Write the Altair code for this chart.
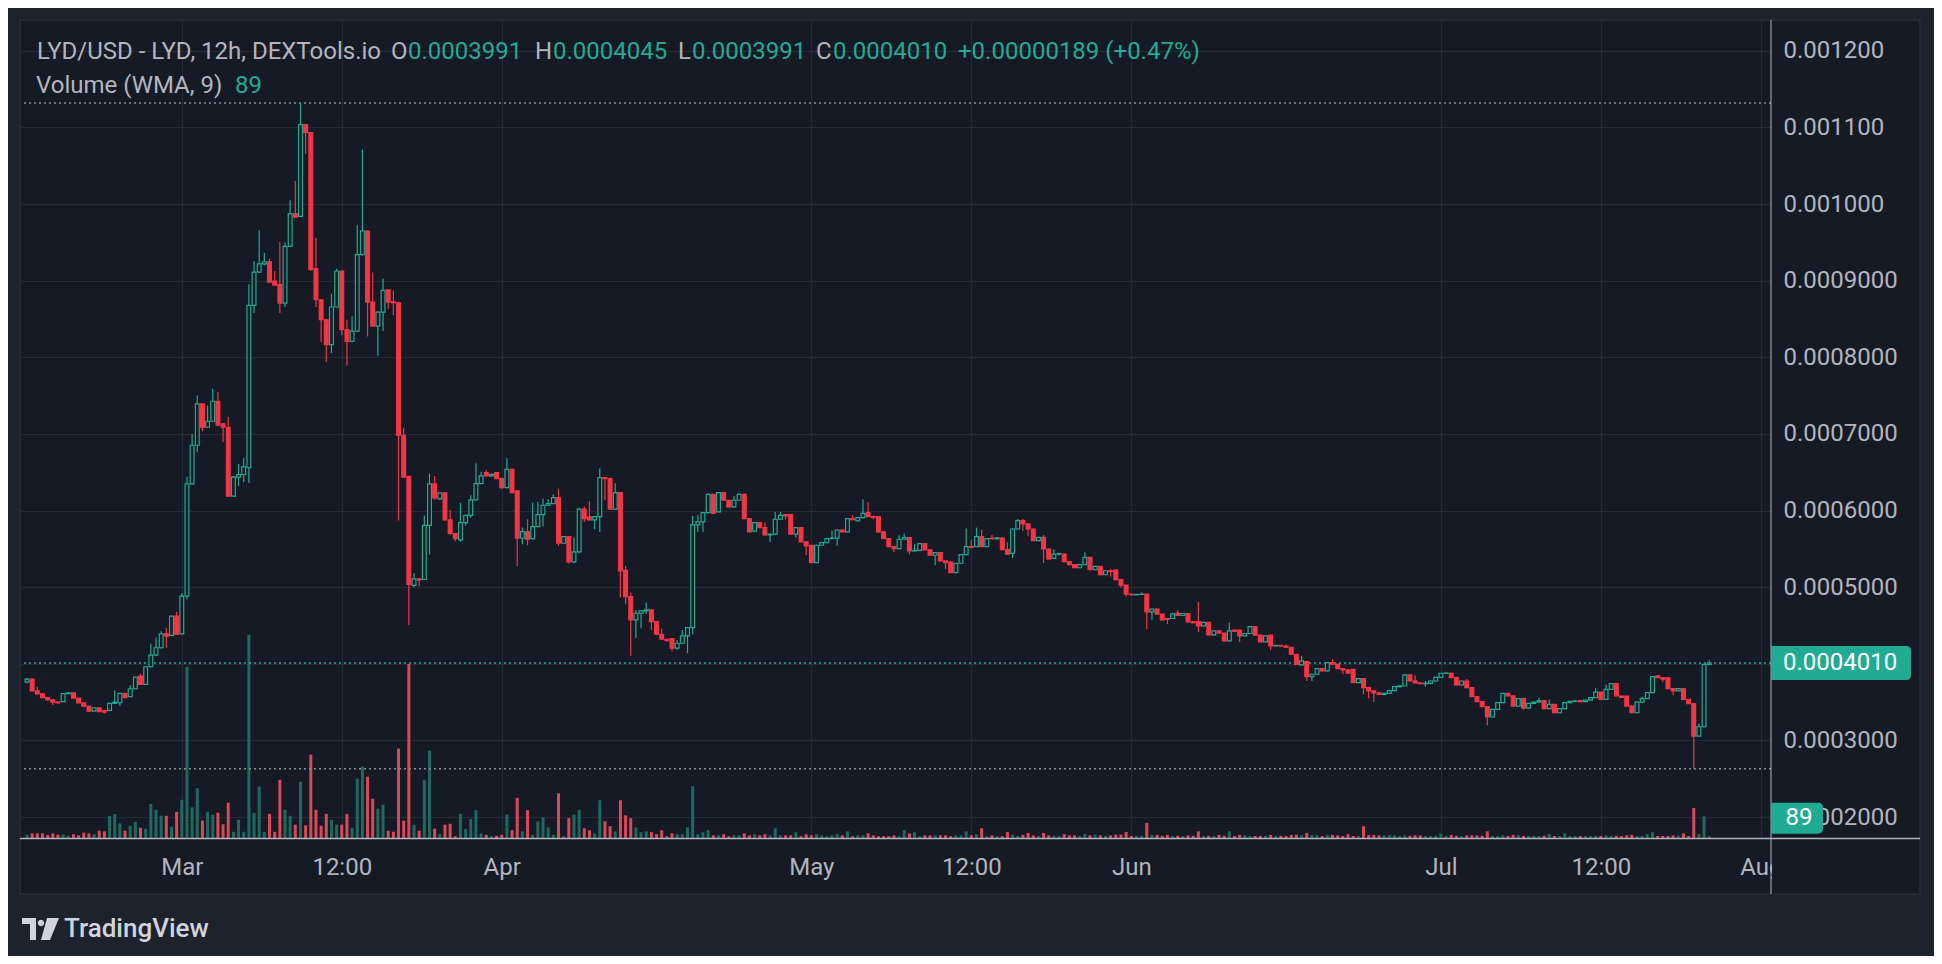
import altair as alt
import pandas as pd

P = 1e-7  # prices below are in units of 0.0000001 USD

# (open, high, low, close, volume) per 12h candle, starting 2024-02-15 00:00 UTC
feb = [
    (3760, 3810, 3750, 3800, 15), (3800, 3810, 3640, 3645, 21), (3645, 3700, 3600, 3608, 21),
    (3608, 3615, 3550, 3557, 21), (3557, 3565, 3515, 3530, 14), (3530, 3535, 3461, 3500, 21),
    (3500, 3510, 3480, 3490, 15), (3505, 3612, 3500, 3609, 15), (3609, 3628, 3605, 3620, 10),
    (3620, 3622, 3550, 3552, 17), (3552, 3555, 3485, 3490, 12), (3490, 3492, 3440, 3448, 24),
    (3448, 3450, 3378, 3383, 21), (3383, 3430, 3380, 3426, 17), (3426, 3430, 3370, 3375, 33),
    (3390, 3400, 3352, 3370, 30), (3391, 3490, 3385, 3483, 99), (3483, 3650, 3475, 3500, 108),
    (3491, 3620, 3450, 3613, 66), (3613, 3618, 3550, 3557, 33), (3570, 3718, 3565, 3674, 55),
    (3674, 3830, 3670, 3826, 73), (3839, 3870, 3725, 3730, 46), (3730, 3965, 3725, 3961, 42),
    (3961, 4261, 3955, 4113, 154), (4113, 4339, 4105, 4209, 127), (4209, 4426, 4200, 4391, 100),
    (4391, 4470, 4209, 4361, 100), (4370, 4625, 4365, 4622, 51), (4622, 4678, 4380, 4383, 118),
]
mar_a = [
    (4391, 4925, 4385, 4883, 172), (4883, 6440, 4840, 6348, 770), (6348, 7000, 6340, 6852, 138),
    (6852, 7500, 6761, 7391, 224), (7391, 7395, 7035, 7087, 78), (7087, 7370, 7080, 7165, 118),
    (7165, 7590, 7160, 7426, 105), (7426, 7548, 7105, 7113, 114), (7130, 7135, 6891, 7087, 62),
    (7087, 7222, 6180, 6187, 159), (6187, 6450, 6175, 6435, 28), (6435, 6609, 6318, 6470, 82),
    (6470, 6687, 6370, 6570, 28), (6558, 8952, 6360, 8677, 914), (8677, 9252, 8577, 9112, 114),
    (9112, 9657, 9100, 9220, 231), (9220, 9365, 9200, 9247, 28), (9247, 9287, 8975, 8982, 109),
    (8995, 9126, 8938, 8940, 28), (8952, 9504, 8577, 8708, 262), (8708, 9500, 8655, 9448, 127),
    (9448, 10048, 9440, 9874, 100), (9874, 10300, 9820, 9830, 60), (9839, 11319, 9830, 11036, 253),
    (11036, 11040, 10657, 10932, 57), (10932, 10935, 9126, 9147, 375), (9156, 9561, 8656, 8751, 127),
    (8751, 8760, 8198, 8490, 55), (8490, 8495, 7937, 8164, 109), (8164, 8830, 8055, 8656, 82),
    (8656, 9156, 8650, 9126, 60),
]
mar_b = [
    (9126, 9130, 8286, 8360, 60), (8360, 8490, 7894, 8207, 109), (8207, 8534, 8200, 8342, 46),
    (8342, 9722, 8335, 9339, 267), (9339, 10710, 9330, 9648, 321), (9648, 9657, 8272, 8721, 276),
    (8721, 9108, 8405, 8407, 177), (8407, 8600, 8016, 8590, 132), (8590, 9025, 8342, 8873, 150),
    (8880, 8885, 8634, 8721, 33), (8725, 8873, 8547, 8712, 28), (8712, 8720, 5870, 6980, 402),
    (6980, 7080, 6430, 6436, 78), (6445, 6450, 4505, 5035, 783), (5022, 5180, 5000, 5109, 60),
    (5109, 5112, 5010, 5095, 33), (5100, 5936, 5095, 5805, 262), (5805, 6483, 5426, 6348, 393),
    (6348, 6450, 6140, 6165, 42), (6153, 6240, 6145, 6231, 18), (6231, 6240, 5870, 5879, 60),
    (5879, 6010, 5690, 5699, 64), (5699, 5700, 5600, 5634, 8), (5618, 6100, 5590, 5843, 109),
    (5843, 5945, 5805, 5938, 41), (5938, 6200, 5905, 6138, 86), (6138, 6617, 6130, 6351, 125),
    (6351, 6505, 6345, 6451, 21), (6495, 6530, 6440, 6451, 14), (6451, 6480, 6440, 6471, 8),
    (6495, 6500, 6410, 6417, 10),
]
apr = [
    (6417, 6430, 6285, 6299, 14), (6299, 6682, 6290, 6538, 105), (6538, 6545, 6225, 6234, 35),
    (6256, 6260, 5277, 5638, 181), (5638, 5777, 5560, 5725, 30), (5725, 5886, 5547, 5625, 125),
    (5634, 6103, 5625, 5790, 14), (5790, 6112, 5785, 5947, 75), (5947, 6156, 5790, 6069, 93),
    (6069, 6147, 6060, 6091, 48), (6091, 6212, 6085, 6169, 14), (6169, 6286, 5538, 5573, 201),
    (5573, 5665, 5565, 5660, 8), (5660, 5665, 5308, 5329, 89), (5329, 5647, 5320, 5460, 105),
    (5460, 6038, 5450, 6017, 127), (6017, 6052, 5851, 5895, 44), (5917, 6121, 5870, 5877, 35),
    (5877, 5925, 5756, 5921, 21), (5921, 6547, 5721, 6430, 170), (6430, 6430, 6134, 6417, 75),
    (6417, 6430, 6010, 6017, 53), (6017, 6356, 6010, 6234, 30), (6234, 6240, 4864, 5212, 170),
    (5220, 5277, 4777, 4877, 102), (4877, 4930, 4103, 4572, 89), (4572, 4703, 4333, 4659, 48),
    (4659, 4700, 4463, 4690, 26), (4690, 4798, 4650, 4703, 30), (4703, 4710, 4442, 4550, 26),
    (4550, 4560, 4380, 4385, 17), (4385, 4458, 4315, 4320, 35), (4320, 4325, 4295, 4303, 8),
    (4329, 4335, 4163, 4203, 21), (4203, 4307, 4180, 4268, 17), (4268, 4442, 4260, 4364, 17),
    (4364, 4480, 4137, 4472, 48), (4472, 5930, 4385, 5812, 233), (5812, 5940, 5721, 5851, 17),
    (5851, 5980, 5721, 5973, 26), (5973, 6220, 5965, 6212, 35), (6212, 6220, 5955, 5964, 12),
    (5982, 6240, 5975, 6234, 12), (6234, 6238, 6125, 6134, 17), (6134, 6140, 6040, 6047, 8),
    (6047, 6190, 6040, 6134, 12), (6134, 6218, 6128, 6212, 12), (6212, 6218, 5890, 5895, 21),
    (5895, 5900, 5715, 5721, 12), (5730, 5850, 5725, 5843, 17), (5843, 5848, 5770, 5778, 12),
    (5778, 5843, 5675, 5682, 17), (5682, 5700, 5590, 5691, 12), (5691, 5982, 5685, 5886, 44),
    (5886, 5982, 5880, 5938, 12), (5947, 5950, 5886, 5930, 12), (5947, 5950, 5685, 5691, 12),
    (5691, 5785, 5647, 5778, 26), (5778, 5785, 5585, 5590, 8), (5590, 5595, 5416, 5538, 17),
]
may = [
    (5547, 5550, 5315, 5321, 12), (5321, 5552, 5315, 5547, 17), (5547, 5590, 5540, 5582, 12),
    (5582, 5640, 5575, 5634, 8), (5634, 5740, 5630, 5640, 12), (5640, 5750, 5540, 5743, 17),
    (5743, 5750, 5715, 5720, 12), (5721, 5900, 5715, 5895, 30), (5895, 5938, 5875, 5880, 8),
    (5865, 5912, 5860, 5908, 12), (5908, 6147, 5900, 5964, 12), (5973, 6104, 5915, 5921, 21),
    (5921, 5935, 5886, 5910, 12), (5921, 5925, 5715, 5721, 8), (5721, 5725, 5628, 5634, 8),
    (5634, 5638, 5522, 5529, 8), (5529, 5535, 5460, 5503, 12), (5503, 5677, 5497, 5625, 8),
    (5625, 5700, 5620, 5647, 35), (5647, 5650, 5430, 5473, 21), (5473, 5560, 5468, 5480, 26),
    (5480, 5575, 5475, 5569, 8), (5569, 5575, 5480, 5486, 12), (5486, 5490, 5410, 5416, 12),
    (5416, 5455, 5285, 5451, 12), (5451, 5455, 5335, 5342, 12), (5342, 5345, 5233, 5320, 12),
    (5329, 5332, 5183, 5190, 8), (5190, 5318, 5185, 5312, 12), (5312, 5430, 5305, 5425, 12),
    (5425, 5764, 5420, 5529, 30), (5529, 5620, 5515, 5520, 12), (5529, 5777, 5525, 5660, 17),
    (5660, 5747, 5525, 5529, 44), (5529, 5640, 5525, 5634, 8), (5640, 5680, 5625, 5630, 12),
    (5630, 5650, 5625, 5645, 8), (5641, 5650, 5480, 5489, 8), (5489, 5585, 5420, 5432, 27),
    (5441, 5765, 5380, 5759, 15), (5759, 5890, 5750, 5868, 9), (5868, 5890, 5737, 5825, 14),
    (5825, 5830, 5672, 5759, 23), (5759, 5765, 5600, 5607, 12), (5607, 5655, 5600, 5650, 9),
    (5650, 5680, 5315, 5498, 23), (5498, 5500, 5360, 5367, 12), (5375, 5498, 5370, 5432, 9),
    (5432, 5445, 5410, 5440, 9), (5432, 5440, 5325, 5332, 17), (5332, 5335, 5285, 5293, 12),
    (5293, 5298, 5248, 5253, 12), (5253, 5298, 5248, 5293, 9), (5293, 5454, 5288, 5389, 18),
    (5389, 5395, 5220, 5227, 12), (5227, 5278, 5220, 5271, 15), (5271, 5276, 5155, 5162, 12),
    (5162, 5220, 5158, 5214, 9), (5214, 5236, 5140, 5205, 12), (5223, 5228, 5090, 5097, 15),
    (5097, 5102, 4996, 5027, 15), (5027, 5030, 4874, 4909, 27),
]
jun = [
    (4909, 4915, 4895, 4900, 9), (4900, 4912, 4895, 4905, 9), (4905, 4930, 4900, 4909, 10),
    (4909, 4912, 4451, 4678, 68), (4678, 4722, 4573, 4713, 14), (4713, 4718, 4640, 4647, 14),
    (4647, 4650, 4565, 4573, 10), (4590, 4595, 4517, 4580, 14), (4591, 4658, 4585, 4652, 9),
    (4660, 4700, 4625, 4630, 10), (4630, 4662, 4625, 4656, 9), (4656, 4660, 4540, 4547, 12),
    (4547, 4552, 4530, 4535, 10), (4550, 4809, 4416, 4495, 30), (4495, 4545, 4490, 4539, 9),
    (4539, 4545, 4370, 4377, 10), (4377, 4435, 4370, 4429, 9), (4429, 4435, 4395, 4400, 14),
    (4400, 4405, 4290, 4298, 10), (4298, 4538, 4290, 4429, 30), (4438, 4450, 4420, 4425, 9),
    (4438, 4442, 4285, 4364, 14), (4364, 4400, 4358, 4395, 12), (4395, 4492, 4390, 4486, 9),
    (4486, 4490, 4368, 4373, 9), (4373, 4378, 4280, 4285, 10), (4285, 4370, 4280, 4364, 9),
    (4373, 4378, 4180, 4233, 14), (4233, 4245, 4228, 4240, 9), (4240, 4245, 4225, 4230, 10),
    (4230, 4250, 4210, 4215, 9), (4215, 4220, 4118, 4124, 14), (4124, 4128, 3988, 3993, 15),
    (3985, 4103, 3980, 4037, 12), (4028, 4032, 3775, 3832, 23), (3832, 3870, 3775, 3863, 14),
    (3863, 3943, 3858, 3937, 14), (3937, 3942, 3900, 3906, 9), (3906, 4020, 3900, 4015, 14),
    (4015, 4058, 3990, 3995, 14), (3995, 4000, 3930, 3937, 12), (3937, 3942, 3862, 3920, 9),
    (3920, 3925, 3870, 3876, 17), (3928, 3932, 3748, 3754, 9), (3754, 3812, 3748, 3806, 9),
    (3806, 3810, 3600, 3688, 53), (3688, 3692, 3548, 3645, 14), (3645, 3650, 3500, 3620, 14),
    (3620, 3625, 3595, 3600, 12), (3600, 3620, 3595, 3614, 12), (3614, 3655, 3608, 3649, 14),
    (3649, 3707, 3643, 3701, 12), (3701, 3720, 3695, 3710, 9), (3710, 3860, 3705, 3854, 12),
    (3854, 3860, 3770, 3776, 10), (3776, 3850, 3745, 3750, 12), (3750, 3755, 3735, 3740, 12),
    (3740, 3775, 3700, 3745, 9), (3745, 3780, 3740, 3775, 9), (3775, 3830, 3770, 3823, 10),
]
jul = [
    (3823, 3882, 3818, 3876, 19), (3876, 3885, 3870, 3880, 9), (3876, 3882, 3812, 3819, 14),
    (3819, 3830, 3710, 3723, 10), (3723, 3782, 3718, 3775, 9), (3775, 3800, 3680, 3688, 12),
    (3688, 3692, 3565, 3570, 12), (3570, 3575, 3500, 3505, 12), (3505, 3510, 3435, 3440, 10),
    (3440, 3445, 3196, 3305, 30), (3305, 3410, 3300, 3405, 10), (3405, 3498, 3400, 3492, 9),
    (3492, 3620, 3487, 3614, 12), (3614, 3620, 3575, 3580, 9), (3580, 3585, 3442, 3448, 14),
    (3448, 3550, 3443, 3544, 12), (3544, 3550, 3400, 3422, 10), (3422, 3488, 3417, 3483, 9),
    (3483, 3505, 3478, 3500, 9), (3500, 3555, 3495, 3520, 9), (3520, 3525, 3408, 3414, 10),
    (3414, 3535, 3408, 3470, 18), (3470, 3475, 3355, 3361, 9), (3361, 3420, 3355, 3414, 9),
    (3414, 3498, 3408, 3492, 21), (3492, 3515, 3487, 3510, 9), (3510, 3520, 3505, 3515, 9),
    (3520, 3525, 3500, 3505, 9), (3505, 3530, 3500, 3525, 9), (3525, 3562, 3520, 3557, 9),
    (3557, 3680, 3552, 3631, 9), (3631, 3636, 3530, 3535, 9), (3535, 3730, 3530, 3666, 12),
    (3666, 3746, 3660, 3741, 9), (3741, 3746, 3574, 3579, 10), (3579, 3584, 3555, 3560, 9),
    (3579, 3584, 3443, 3448, 12), (3448, 3453, 3355, 3361, 14), (3361, 3505, 3355, 3500, 9),
    (3500, 3570, 3495, 3544, 9), (3544, 3628, 3539, 3623, 17), (3623, 3838, 3618, 3832, 26),
    (3841, 3853, 3815, 3819, 9), (3819, 3825, 3760, 3800, 9), (3815, 3820, 3670, 3675, 9),
    (3675, 3680, 3590, 3645, 12), (3645, 3680, 3640, 3675, 10), (3675, 3680, 3530, 3535, 21),
    (3535, 3540, 3474, 3479, 9), (3479, 3484, 2630, 3056, 135), (3056, 3220, 3050, 3178, 18),
    (3178, 3997, 3172, 3991, 98), (3991, 4045, 3991, 4010, 8),
]

TICKS = [(3, 1, 0), (3, 16, 12), (4, 1, 0), (5, 1, 0), (5, 16, 12), (6, 1, 0), (7, 1, 0), (7, 16, 12), (8, 1, 0)]
PRICE_TICKS = [2, 3, 4, 5, 6, 7, 8, 9, 10, 11, 12]   # x 0.0001
VOL_WMA = 89
CHANGE_TEXT = "+0.00000189 (+0.47%)"

UP = "#22ab94"
DOWN = "#f23645"
VOL_UP = "#1e6a5e"
VOL_DOWN = "#d9495a"
BG = "#161a25"
OUTER = "#1e222d"
BORDER = "#2a2e39"
GRID = "#262a35"
TXT = "#b2b5be"
DOT = "#8a8d96"
SEP = "#b2b5be"
FONT = "Roboto"

W, H = 1750, 817
PRICE_DOMAIN = [0.0001726, 0.0012389]
VOL_DOMAIN = [0, 3676]

candles = feb + mar_a + mar_b + apr + may + jun + jul
df = pd.DataFrame(candles, columns=["o", "h", "l", "c", "v"])
start = pd.Timestamp("2024-02-15 00:00")
df["t"] = [(start + pd.Timedelta(hours=12 * i)).strftime("%Y-%m-%dT%H:%M:%SZ") for i in range(len(df))]
for k in "ohlc":
    df[k] = df[k] * P
df["up"] = df["c"] >= df["o"]

last = df.iloc[-1]

xscale = alt.Scale(type="utc", nice=False, domain=[
    alt.DateTime(year=2024, month=2, date=14, hours=21, minutes=42, utc=True),
    alt.DateTime(year=2024, month=8, date=1, hours=12, utc=True)])
xaxis = alt.Axis(
    values=[alt.DateTime(year=2024, month=m, date=d, hours=hh, utc=True) for m, d, hh in TICKS],
    labelExpr="utcFormat(datum.value, '%H') == '12' ? '12:00' : utcFormat(datum.value, '%b')",
    grid=True, gridColor=GRID, gridWidth=1, domain=False, ticks=False, tickSize=0,
    labelPadding=29, labelBaseline="middle", labelFontSize=24, labelFont=FONT,
    labelColor=TXT, labelFlush=False, labelOverlap=False, title=None)
X = alt.X("t:T", scale=xscale, axis=xaxis)

yscale = alt.Scale(domain=PRICE_DOMAIN, nice=False, zero=False)
yaxis = alt.Axis(
    orient="right", values=[round(k * 1e-4, 4) for k in PRICE_TICKS],
    labelExpr="datum.value >= 0.00099 ? format(datum.value, '.6f') : format(datum.value, '.7f')",
    grid=True, gridColor=GRID, gridWidth=1, domain=False, ticks=False, tickSize=0,
    labelPadding=12, labelFontSize=24, labelFont=FONT, labelColor=TXT,
    labelBaseline="middle", labelAlign="left", labelFlush=False, labelOverlap=False, title=None)
volscale = alt.Scale(domain=VOL_DOMAIN, nice=False)

base = alt.Chart(df)
ONE = pd.DataFrame({"a": [0]})


def rect(x, x2, y, y2, **kw):
    return alt.Chart(ONE).mark_rect(**kw).encode(
        x=alt.value(x), x2=alt.value(x2), y=alt.value(y), y2=alt.value(y2))


def text(s, x, y, color, size=24, align="left", baseline="alphabetic", weight="normal"):
    return alt.Chart(ONE).mark_text(
        text=s, font=FONT, fontSize=size, color=color, align=align,
        baseline=baseline, fontWeight=weight).encode(x=alt.value(x), y=alt.value(y))


strips = [
    rect(-13, 1913, -13, -1, fill=OUTER),
    rect(-13, -1, -13, 935, fill=OUTER),
    rect(1899, 1913, -13, 935, fill=OUTER),
    rect(-13, 1913, 873, 935, fill=OUTER),
    rect(-1, 1899, -1, 873, fillOpacity=0, stroke=BORDER, strokeWidth=1.5),
]

vol = base.mark_bar(size=3, clip=True).encode(
    x=X, y=alt.Y("v:Q", scale=volscale, axis=None),
    color=alt.condition("datum.up", alt.value(VOL_UP), alt.value(VOL_DOWN)))

lines_df = pd.DataFrame({"p": [df["h"].max(), df["l"].min(), last["c"]], "col": [DOT, DOT, UP]})
reflines = alt.Chart(lines_df).mark_rule(strokeDash=[2, 3], strokeWidth=1.5).encode(
    y=alt.Y("p:Q", scale=yscale, axis=None), color=alt.Color("col:N", scale=None))

wicks = base.mark_rule(strokeWidth=1.2, clip=True).encode(
    x=X, y=alt.Y("l:Q", scale=yscale, axis=yaxis), y2="h:Q",
    color=alt.condition("datum.up", alt.value(UP), alt.value(DOWN)))

bodies = base.mark_bar(size=3.8, strokeWidth=1.2, clip=True).encode(
    x=X, y=alt.Y("o:Q", scale=yscale, axis=None), y2="c:Q",
    fill=alt.condition("datum.up", alt.value(BG), alt.value(DOWN)),
    stroke=alt.condition("datum.up", alt.value(UP), alt.value(DOWN)))

mask = rect(1751, 1790, 820, 871, fill=BG)
vsep = alt.Chart(ONE).mark_rule(color=SEP, strokeWidth=1).encode(
    x=alt.value(1750), y=alt.value(-1), y2=alt.value(873))
hsep = alt.Chart(ONE).mark_rule(color=SEP, strokeWidth=1.5).encode(
    x=alt.value(-1), x2=alt.value(1899), y=alt.value(817.5))

BOX1 = "M-1,-0.243H0.93Q1,-0.243 1,-0.17V0.17Q1,0.243 0.93,0.243H-1Z"
BOX2 = "M-1,-0.596H0.8Q1,-0.596 1,-0.4V0.4Q1,0.596 0.8,0.596H-1Z"
last_df = pd.DataFrame({"p": [last["c"]], "s": [f"{last['c']:.7f}"]})
pbox = alt.Chart(last_df).mark_point(shape=BOX1, size=140 ** 2, filled=True, fill=UP,
                                     opacity=1, strokeWidth=0).encode(
    x=alt.value(1820), y=alt.Y("p:Q", scale=yscale, axis=None))
ptext = alt.Chart(last_df).mark_text(align="left", baseline="middle", font=FONT,
                                     fontSize=24, color="#ffffff").encode(
    x=alt.value(1762), y=alt.Y("p:Q", scale=yscale, axis=None), text="s:N")

vl_df = pd.DataFrame({"v": [VOL_WMA], "s": [str(VOL_WMA)]})
vbox = alt.Chart(vl_df).mark_point(shape=BOX2, size=52 ** 2, filled=True, fill=UP,
                                   opacity=1, strokeWidth=0).encode(
    x=alt.value(1776), y=alt.Y("v:Q", scale=volscale, axis=None))
vtext = alt.Chart(vl_df).mark_text(align="center", baseline="middle", font=FONT,
                                   fontSize=24, color="#ffffff").encode(
    x=alt.value(1778), y=alt.Y("v:Q", scale=volscale, axis=None), text="s:N")

fmt = lambda v: f"{v:.7f}"
texts = [
    text("LYD/USD - LYD, 12h, DEXTools.io", 16, 38, TXT),
    text("O", 370, 38, TXT), text(fmt(last["o"]), 387, 38, UP),
    text("H", 514, 38, TXT), text(fmt(last["h"]), 532, 38, UP),
    text("L", 657, 38, TXT), text(fmt(last["l"]), 671, 38, UP),
    text("C", 795, 38, TXT), text(fmt(last["c"]), 812, 38, UP),
    text(CHANGE_TEXT, 937, 38, UP),
    text("Volume (WMA, 9)", 15, 72, TXT), text(str(VOL_WMA), 214, 72, UP),
    text("TradingView", 43, 916, "#d1d4dc", size=26, weight=500),
]
LOGO = ("M-1,-0.595H-0.243V0.595H-0.568V-0.27H-1Z "
        "M-0.146,-0.324A0.173,0.173 0 1,0 0.2,-0.324A0.173,0.173 0 1,0 -0.146,-0.324Z "
        "M0.351,-0.595H1L0.514,0.595H0.027Z")
logo = alt.Chart(ONE).mark_point(shape=LOGO, size=37 ** 2, filled=True, fill="#d1d4dc",
                                 opacity=1, strokeWidth=0).encode(
    x=alt.value(19.5), y=alt.value(908))

chart = alt.layer(
    *strips, vol, reflines, wicks, bodies, mask, vsep, hsep,
    pbox, ptext, vbox, vtext, *texts, logo
).resolve_scale(y="independent").properties(
    width=W, height=H,
    autosize=alt.AutoSizeParams(type="none"),
    padding={"left": 13, "top": 13, "right": 163, "bottom": 118},
).configure(background=BG).configure_view(strokeWidth=0)

chart.save("out.html", embed_options={"renderer": "svg", "actions": False})
